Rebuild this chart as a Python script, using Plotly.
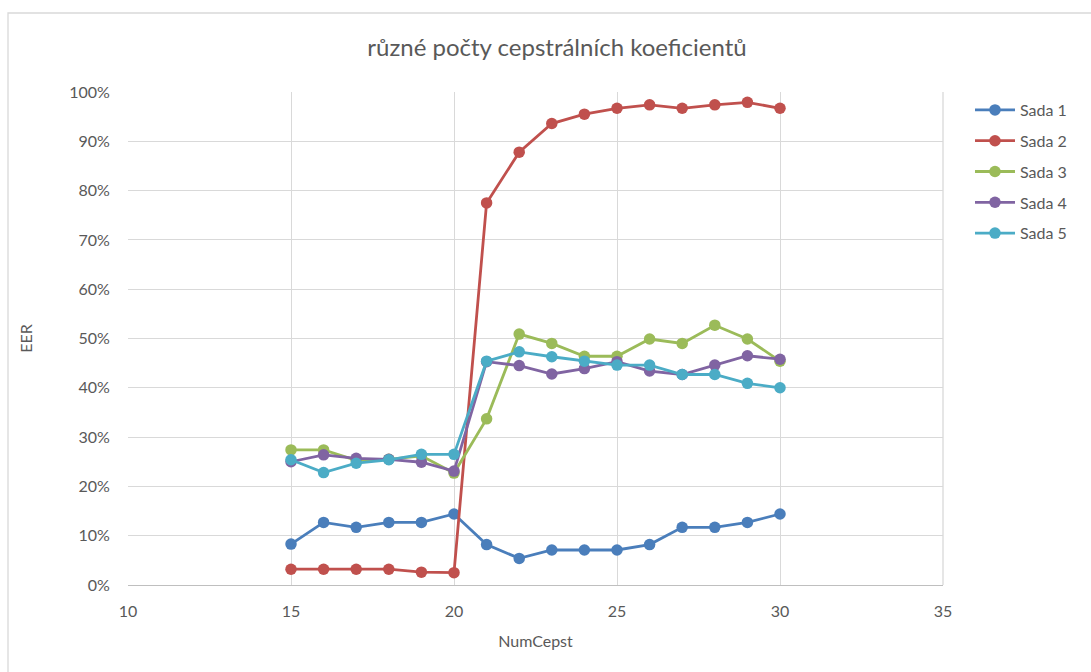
import plotly.graph_objects as go

# Number of cepstral coefficients on the x axis
num_cepst = [15, 16, 17, 18, 19, 20, 21, 22, 23, 24, 25, 26, 27, 28, 29, 30]

# EER (%) for each coefficient set
sada_1 = [8.3, 12.7, 11.7, 12.7, 12.7, 14.4, 8.2, 5.4, 7.1, 7.1, 7.1, 8.2, 11.7, 11.7, 12.7, 14.4]
sada_2 = [3.2, 3.2, 3.2, 3.2, 2.6, 2.5, 77.5, 87.8, 93.6, 95.5, 96.7, 97.4, 96.7, 97.4, 97.9, 96.7]
sada_3 = [27.4, 27.4, 25.3, 25.5, 26.2, 22.7, 33.7, 50.9, 49.0, 46.4, 46.4, 49.9, 49.0, 52.7, 49.9, 45.4]
sada_4 = [25.0, 26.4, 25.7, 25.5, 24.9, 23.1, 45.3, 44.5, 42.8, 43.9, 45.3, 43.4, 42.7, 44.6, 46.5, 45.8]
sada_5 = [25.4, 22.8, 24.7, 25.4, 26.5, 26.5, 45.4, 47.3, 46.3, 45.4, 44.6, 44.6, 42.7, 42.7, 40.9, 40.0]

series_names = ["Sada 1", "Sada 2", "Sada 3", "Sada 4", "Sada 5"]
series_values = [sada_1, sada_2, sada_3, sada_4, sada_5]
colors = ["#4A7EBB", "#C0504D", "#9BBB59", "#8064A2", "#4BACC6"]

x_ticks = [10, 15, 20, 25, 30, 35]
y_ticks = [0, 10, 20, 30, 40, 50, 60, 70, 80, 90, 100]
y_labels = [f"{v}%" for v in y_ticks]

FONT = "Lato, 'Open Sans', sans-serif"
GRID = "#D9D9D9"
TEXT = "#595959"

fig = go.Figure()
for name, vals, col in zip(series_names, series_values, colors):
    fig.add_trace(go.Scatter(
        x=num_cepst, y=vals, name=name, mode="lines+markers", legendgroup=name,
        line=dict(color=col, width=2.8),
        marker=dict(color=col, size=11.5),
    ))

W, H = 1091, 672
L, R, T, B = 128, 943, 92, 585
pw, ph = R - L, B - T

def px_x(p):
    return (p - L) / pw

def px_y(p):
    return (B - p) / ph

fig.update_layout(
    width=W, height=H,
    margin=dict(l=L, r=W - R, t=T, b=H - B),
    paper_bgcolor="white", plot_bgcolor="white",
    font=dict(family=FONT, color=TEXT, size=16),
    title=dict(text="různé počty cepstrálních koeficientů", x=557 / W, xanchor="center",
               y=1 - 48 / H, yanchor="middle",
               font=dict(size=24, color=TEXT, family=FONT)),
    xaxis=dict(range=[10, 35], tickvals=x_ticks, showgrid=True, gridcolor=GRID, gridwidth=1.3,
               zeroline=False, showline=True, linecolor="#BFBFBF", linewidth=1.3,
               ticks="outside", ticklen=12, tickcolor="rgba(0,0,0,0)",
               tickfont=dict(size=16, color=TEXT),
               title=dict(text="NumCepst", font=dict(size=16, color=TEXT), standoff=16)),
    yaxis=dict(range=[0, 100], tickvals=y_ticks, ticktext=y_labels, showgrid=True,
               gridcolor=GRID, gridwidth=1.3, zeroline=False, showline=False,
               ticks="outside", ticklen=14, tickcolor="rgba(0,0,0,0)",
               tickfont=dict(size=16, color=TEXT),
               title=dict(text="EER", font=dict(size=16, color=TEXT), standoff=32)),
    legend=dict(x=px_x(970), y=px_y(93), xanchor="left", yanchor="top",
                font=dict(size=16, color=TEXT), tracegroupgap=7, itemwidth=40,
                bgcolor="rgba(0,0,0,0)"),
    showlegend=True,
)

# Chart frame
fig.add_shape(type="rect", xref="paper", yref="paper",
              x0=px_x(8), x1=px_x(1100), y0=px_y(690), y1=px_y(13),
              line=dict(color=GRID, width=1.3), fillcolor="rgba(0,0,0,0)", layer="below")
# Right edge of the plot area
fig.add_shape(type="line", xref="paper", yref="paper", x0=1, x1=1, y0=0, y1=1,
              line=dict(color=GRID, width=1.3), layer="below")

fig.write_html("out.html")
